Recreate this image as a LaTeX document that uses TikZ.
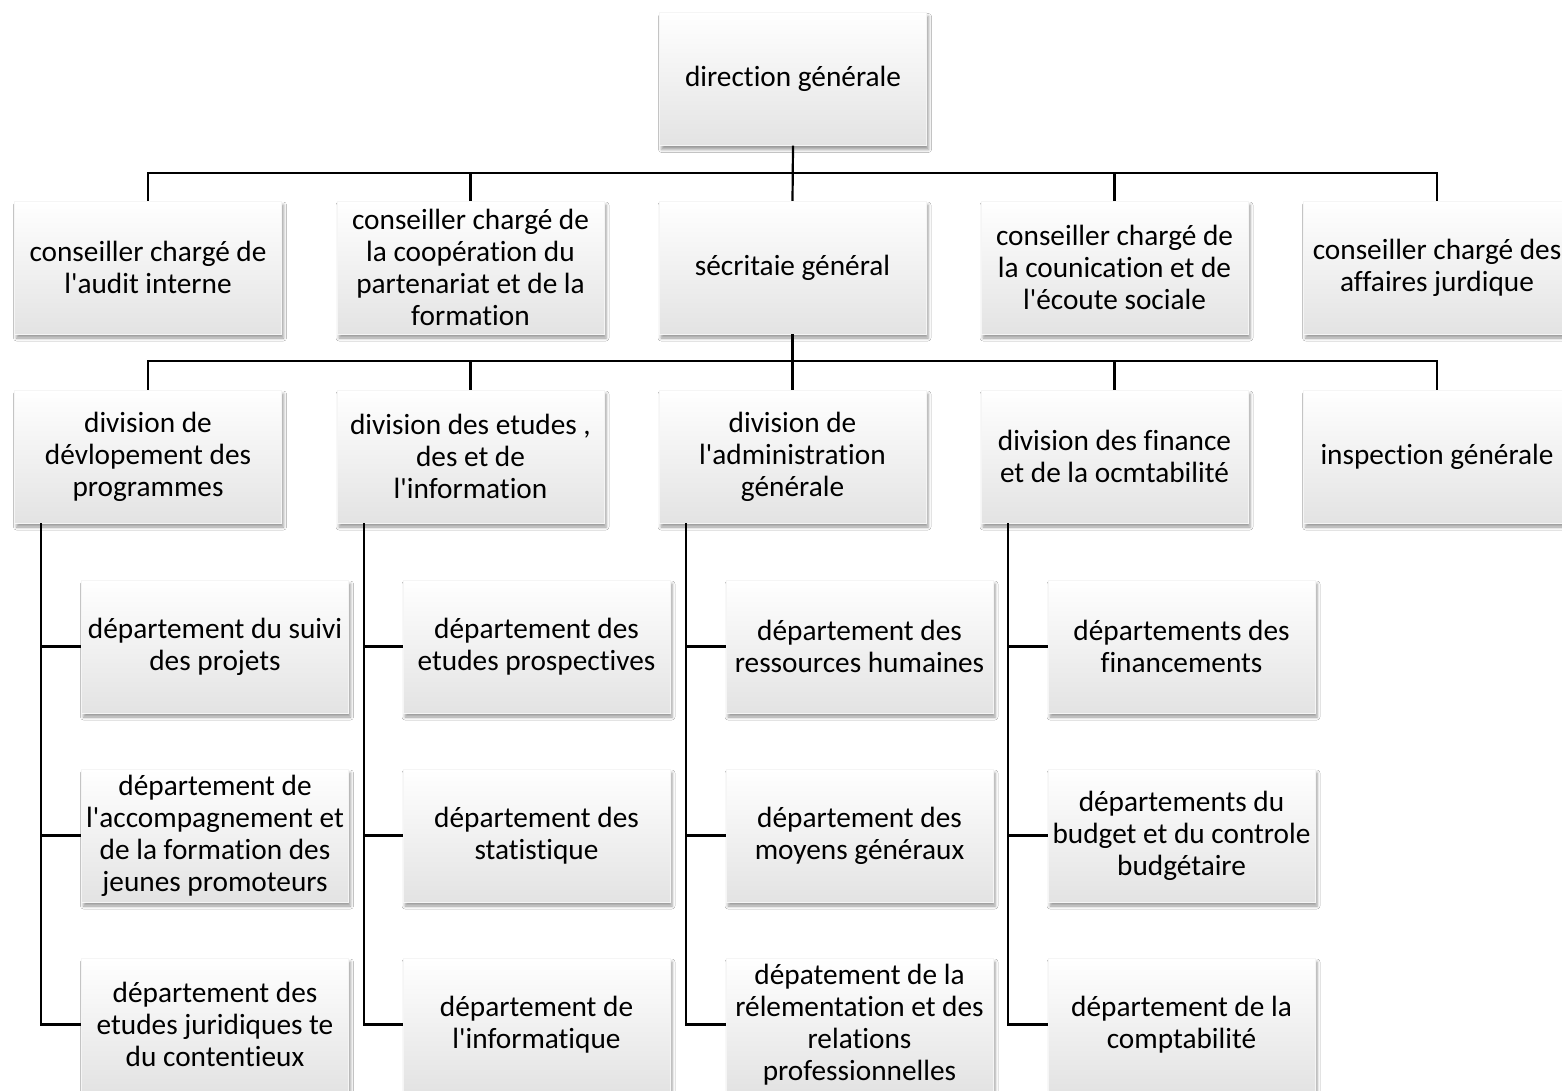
\documentclass[tikz,border=0pt]{standalone}
\usepackage{fontspec}
\setmainfont{Carlito}[Ligatures={NoCommon}]
\usetikzlibrary{shadows.blur}
\newcommand\ap{\textquotesingle}
\begin{document}
\begin{tikzpicture}[x=1pt,y=-1pt,
  box/.style={rectangle, minimum width=267pt, minimum height=133pt, inner sep=1pt,
    align=center, top color=white, bottom color=black!11, draw=black!4, line width=0.3pt,
    blur shadow={shadow xshift=2pt, shadow yshift=-4pt, shadow blur radius=3pt, shadow opacity=40},
    font=\fontsize{29.3}{32}\selectfont},
  link/.style={line width=2.2pt, black}]
\useasboundingbox (0,0) rectangle (1562,1091);
\clip (0,0) rectangle (1562,1091);
\fill[white] (0,0) rectangle (1562,1091);

\coordinate (bar1) at (793,173);
\coordinate (bar2) at (793,361);

% level 1
\node[box] (dg) at (793,79) {direction générale};

% level 2
\node[box] (c1) at (148,267.5) {conseiller chargé de\\l\ap audit interne};
\node[box] (c2) at (470.5,267.5) {conseiller chargé de\\la coopération du\\partenariat et de la\\formation};
\node[box] (sg) at (792.5,267.5) {sécritaie général};
\node[box] (c4) at (1114.5,267.5) {conseiller chargé de\\la counication et de\\l\ap écoute sociale};
\node[box] (c5) at (1437,267.5) {conseiller chargé des\\affaires jurdique};

% level 3
\node[box] (d1) at (148,456.5) {division de\\dévlopement des\\programmes};
\node[box] (d2) at (470.5,456.5) {division des etudes ,\\des et de\\l\ap information};
\node[box] (d3) at (792.5,456.5) {division de\\l\ap administration\\générale};
\node[box] (d4) at (1114.5,456.5) {division des finance\\et de la ocmtabilité};
\node[box] (d5) at (1437,456.5) {inspection générale};

% level 4
\node[box] (p11) at (215,646.5) {département du suivi\\des projets};
\node[box] (p12) at (215,835.5) {département de\\l\ap accompagnement et\\de la formation des\\jeunes promoteurs};
\node[box] (p13) at (215,1024.5) {département des\\etudes juridiques te\\du contentieux};

\node[box] (p21) at (536.5,646.5) {département des\\etudes prospectives};
\node[box] (p22) at (536.5,835.5) {département des\\statistique};
\node[box] (p23) at (536.5,1024.5) {département de\\l\ap informatique};

\node[box] (p31) at (859.5,646.5) {département des\\ressources humaines};
\node[box] (p32) at (859.5,835.5) {département des\\moyens généraux};
\node[box] (p33) at (859.5,1024.5) {dépatement de la\\rélementation et des\\relations\\professionnelles};

\node[box] (p41) at (1181.5,646.5) {départements des\\financements};
\node[box] (p42) at (1181.5,835.5) {départements du\\budget et du controle\\budgétaire};
\node[box] (p43) at (1181.5,1024.5) {département de la\\comptabilité};

% connectors
\draw[link] (dg.south) -- (sg.north);
\foreach \n in {c1,c2,c4,c5}{
  \draw[link] (bar1) -| (\n.north);
}
\draw[link] (sg.south) -- (d3.north);
\foreach \n in {d1,d2,d4,d5}{
  \draw[link] (bar2) -| (\n.north);
}
\foreach \d/\p in {d1/1,d2/2,d3/3,d4/4}{
  \foreach \r in {1,2,3}{
    \draw[link] ([xshift=27pt]\d.south west) |- (p\p\r.west);
  }
}
\end{tikzpicture}
\end{document}
